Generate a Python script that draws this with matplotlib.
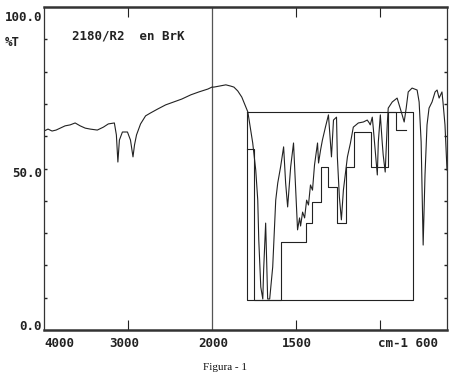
import numpy as np
import matplotlib
matplotlib.use("Agg")
import matplotlib.pyplot as plt

# IR spectrum, wavenumber (cm-1) and %T
wn_hi = [4000, 3952, 3904, 3856, 3808, 3749, 3689, 3629, 3569, 3509, 3449, 3365,
         3293, 3234, 3162, 3138, 3120, 3102, 3066, 3006, 2970, 2940, 2922, 2898,
         2850, 2790, 2731, 2647, 2551, 2455, 2359, 2252, 2156, 2048, 2000]
t_hi = [61.6, 62.2, 61.6, 61.9, 62.5, 63.2, 63.5, 64.1, 63.2, 62.5, 62.2, 61.9,
        62.8, 63.8, 64.1, 60.4, 52.0, 58.8, 61.3, 61.3, 58.8, 53.6, 57.3, 60.4,
        63.8, 66.3, 67.2, 68.4, 69.7, 70.6, 71.5, 72.8, 73.7, 74.6, 75.2]

wn_lo = [1988, 1958, 1917, 1887, 1869, 1846, 1822, 1798, 1786, 1769, 1757, 1739,
         1727, 1721, 1709, 1697, 1692, 1680, 1674, 1668, 1656, 1638, 1620, 1608,
         1591, 1573, 1561, 1549, 1531, 1514, 1502, 1490, 1478, 1472, 1460, 1448,
         1436, 1425, 1413, 1401, 1389, 1377, 1371, 1365, 1353, 1342, 1324, 1306,
         1288, 1276, 1258, 1253, 1241, 1229, 1217, 1193, 1175, 1158, 1128, 1098,
         1075, 1063, 1057, 1045, 1039, 1027, 1015, 1009, 997, 986, 980, 968,
         956, 950, 926, 897, 879, 867, 855, 843, 831, 808, 778, 766,
         754, 748, 742, 731, 719, 707, 689, 671, 659, 647, 630, 624, 612, 600]
t_lo = [75.2, 75.5, 75.9, 75.5, 75.2, 74.0, 72.1, 69.0, 67.5, 61.9, 57.9, 49.5,
        40.2, 27.9, 13.3, 9.6, 18.6, 33.1, 21.7, 9.6, 9.6, 19.5, 40.2, 45.5,
        50.5, 56.7, 45.5, 38.1, 50.5, 57.9, 44.3, 31.0, 34.7, 32.2, 36.5, 34.7,
        40.2, 38.7, 44.9, 43.3, 51.1, 55.7, 57.9, 51.7, 55.7, 58.8, 62.8, 66.6,
        53.6, 65.0, 65.9, 53.6, 41.2, 34.1, 43.3, 53.6, 57.9, 62.8, 64.1, 64.4,
        65.0, 64.1, 63.5, 65.9, 62.5, 55.1, 48.0, 58.2, 66.6, 58.2, 54.2, 48.9,
        63.5, 68.7, 70.6, 71.8, 68.7, 66.6, 64.4, 68.7, 73.7, 74.9, 74.3, 70.6,
        58.2, 42.7, 26.3, 48.0, 63.5, 68.7, 70.6, 73.7, 74.3, 71.8, 73.7, 70.6, 63.5, 49.5]

# peak-table envelope (stairs) and its frame
step_edges = [1792, 1751, 1591, 1442, 1401, 1353, 1306, 1253, 1199, 1152, 1051, 950, 903, 843]
step_levels = [56.0, 9.3, 27.2, 33.1, 39.6, 50.5, 44.3, 33.1, 50.5, 61.3, 50.5, 67.5, 61.9]
box_wn = [1792, 802]
box_t = [9.3, 67.5]

wn = np.array(wn_hi + wn_lo, dtype=float)
tr = np.array(t_hi + t_lo)


# scale doubles below 2000 cm-1
def fwd(w):
    w = np.asarray(w, dtype=float)
    return np.where(w >= 2000, w, 2 * w - 2000)


def inv(u):
    u = np.asarray(u, dtype=float)
    return np.where(u >= 2000, u, (u + 2000) / 2)


fig = plt.figure(figsize=(4.5, 3.8), dpi=100)
ax = fig.add_axes([44 / 450, 50 / 380, 403 / 450, 323 / 380])
ax.set_xscale('function', functions=(fwd, inv))
ax.set_xlim(4000, 600)
ax.set_ylim(0, 100)

ink = '#222222'
ax.axvline(2000, color='#555555', lw=0.9)
ax.plot(wn, tr, color=ink, lw=0.8)

sy = step_levels + [step_levels[-1]]
ax.step(step_edges, sy, where='post', color=ink, lw=0.8)
bx = [box_wn[0], box_wn[1], box_wn[1], box_wn[0], box_wn[0]]
by = [box_t[1], box_t[1], box_t[0], box_t[0], box_t[1]]
ax.plot(bx, by, color=ink, lw=0.8)

ax.set_xticks([3000, 1500, 1000])
ax.set_xticklabels([])
ax.set_yticks(range(10, 100, 10))
ax.set_yticklabels([])
ax.minorticks_off()
ax.tick_params(axis='x', direction='in', top=True, bottom=True, length=7, width=0.8, color=ink)
ax.tick_params(axis='y', direction='in', left=True, right=True, length=2.5, width=1.0, color=ink)
for side in ['top', 'bottom']:
    ax.spines[side].set_linewidth(1.8)
    ax.spines[side].set_color('#333333')
for side in ['left', 'right']:
    ax.spines[side].set_linewidth(0.9)
    ax.spines[side].set_color('#333333')

mono = dict(family='DejaVu Sans Mono', size=9, weight='bold', color=ink)
ytr = ax.get_yaxis_transform()
xtr = ax.get_xaxis_transform()
ax.text(-0.005, 96.6, '100.0', transform=ytr, ha='right', va='center', **mono)
ax.text(-0.097, 88.9, '%T', transform=ytr, ha='left', va='center', **mono)
ax.text(-0.005, 48.6, '50.0', transform=ytr, ha='right', va='center', **mono)
ax.text(-0.005, 1.2, '0.0', transform=ytr, ha='right', va='center', **mono)

ax.text(4000, -0.043, '4000', transform=xtr, ha='left', va='center', **mono)
ax.text(3040, -0.043, '3000', transform=xtr, ha='center', va='center', **mono)
ax.text(1990, -0.043, '2000', transform=xtr, ha='center', va='center', **mono)
ax.text(1496, -0.043, '1500', transform=xtr, ha='center', va='center', **mono)
ax.text(653, -0.043, 'cm-1 600', transform=xtr, ha='right', va='center', **mono)

ax.text(3665, 91.0, '2180/R2  en BrK', ha='left', va='center', **mono)

fig.text(0.5, 1 - 368 / 380, 'Figura - 1', ha='center', va='center',
         family='Liberation Serif', size=8, color='#111111')

fig.savefig('out.png', dpi=100)
